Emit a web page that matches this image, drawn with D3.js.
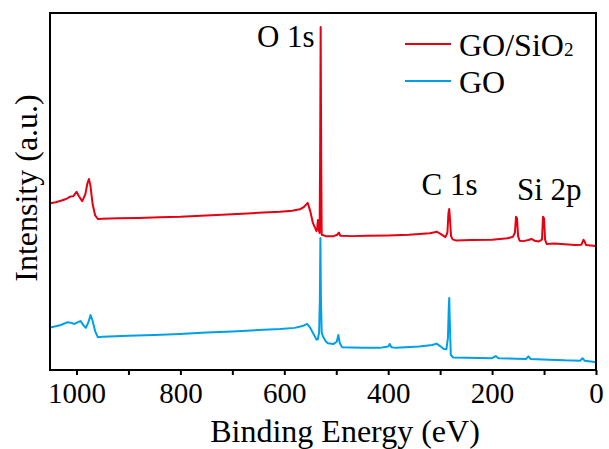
<!DOCTYPE html>
<html>
<head>
<meta charset="utf-8">
<script src="https://cdn.jsdelivr.net/npm/d3@7"></script>
<style>
  html, body { margin: 0; padding: 0; background: #fff; }
  svg { display: block; }
  text { font-family: "Liberation Serif", "Times New Roman", serif; fill: #000; }
</style>
</head>
<body>
<svg id="chart" width="609" height="449"></svg>
<script>
// XPS survey spectra: [binding energy (eV), intensity (a.u.)]
const goSiO2 = [
  [1051, 46.5], [1048, 46.8], [1040, 47.0], [1030, 47.4], [1020, 47.9], [1013, 48.5],
  [1006, 48.7], [1000, 49.9], [995, 48.6], [989, 47.3], [983, 49.2], [979, 52.3],
  [976, 53.5], [973, 51.5], [969, 46.5], [964, 43.3], [959, 42.3], [950, 42.4],
  [920, 42.5], [880, 42.6], [840, 42.8], [800, 42.9], [760, 43.2], [720, 43.5],
  [680, 43.8], [640, 44.1], [608, 44.3], [585, 44.6], [570, 45.0], [562, 45.7],
  [555, 46.8], [550, 44.5], [545, 41.2], [538, 38.9], [536.5, 40.0], [535.3, 42.0],
  [534, 39.5], [532, 38.4], [531, 60.0], [530, 96.1], [529, 60.0], [528, 37.9],
  [526, 37.8], [520, 37.5], [505, 37.5], [498, 37.9], [495, 38.5], [492, 37.6],
  [470, 37.5], [440, 37.6], [400, 37.7], [360, 37.9], [320, 38.3], [306, 38.7],
  [297, 37.9], [290, 37.2], [286, 38.5], [284, 44.0], [282.5, 45.1], [281, 42.0],
  [279, 37.5], [276, 36.6], [270, 36.3], [240, 36.4], [200, 36.5], [170, 36.9],
  [160, 37.3], [156, 38.5], [154, 42.9], [152, 42.5], [150, 37.5], [147, 36.2],
  [140, 36.1], [130, 36.4], [124, 36.7], [118, 36.2], [110, 36.0], [104, 36.5],
  [102, 42.9], [100, 42.5], [98, 36.5], [95, 35.3], [80, 35.4], [60, 35.2],
  [40, 35.0], [28, 35.1], [24, 36.5], [22, 36.0], [19, 35.0], [10, 34.9], [0, 34.7]
];

const go = [
  [1051, 11.9], [1048, 12.0], [1030, 12.6], [1017, 13.4], [1010, 13.2], [1004, 12.9],
  [996, 13.5], [992, 13.7], [987, 12.6], [982, 11.8], [977, 13.4], [973, 15.4],
  [969, 13.8], [964, 10.8], [959, 9.2], [950, 9.3], [900, 9.6], [850, 9.8],
  [801, 10.1], [750, 10.5], [700, 10.8], [650, 11.2], [608, 11.5], [580, 11.8],
  [565, 12.3], [556, 12.9], [550, 11.8], [543, 9.9], [538, 8.5], [535.5, 8.6],
  [533, 10.5], [531.5, 20.0], [530.5, 37.0], [529.5, 20.0], [528, 10.5], [525.5, 9.4],
  [520, 8.0], [516, 7.5], [505, 7.3], [499, 7.9], [496, 9.8], [493, 7.5], [489, 6.4],
  [450, 6.2], [416, 6.2], [400, 6.6], [397, 7.3], [394, 6.4], [385, 6.2], [340, 6.6],
  [315, 7.0], [307, 7.4], [300, 6.7], [293, 5.9], [288, 5.8], [285, 9.0], [283.5, 17.0],
  [282.5, 20.2], [281.5, 14.0], [279.5, 4.2], [275, 3.5], [250, 3.4], [200, 3.3],
  [193, 3.9], [188, 3.3], [135, 3.1], [130, 3.8], [126, 3.1], [90, 2.9], [60, 2.7],
  [30, 2.6], [26, 3.3], [22, 2.6], [10, 2.4], [0, 2.2]
];

const seriesNames = ["GO/SiO", "GO"];
const seriesColors = ["#e60012", "#00a0e9"];

// x axis ticks (every 100 eV, labelled every 200 eV)
const tickValues = [1000, 900, 800, 700, 600, 500, 400, 300, 200, 100, 0];
const tickLabels = ["1000", "", "800", "", "600", "", "400", "", "200", "", "0"];

// peak annotations: [label, energy position, intensity position, anchor]
const peakLabels = [
  ["O 1s", 541.5, 90.5, "end"],
  ["C 1s", 282, 49.0, "middle"],
  ["Si 2p", 90, 47.6, "middle"]
];

const W = 609, H = 449;
const margin = { left: 50, right: 13, top: 13, bottom: 79 };
const plotW = W - margin.left - margin.right;
const plotH = H - margin.top - margin.bottom;

const svg = d3.select("#chart");
const g = svg.append("g").attr("transform", `translate(${margin.left},${margin.top})`);

const x = d3.scaleLinear().domain([1051, 0]).range([0, plotW]);
const y = d3.scaleLinear().domain([0, 100]).range([plotH, 0]);

const line = d3.line().x(d => x(d[0])).y(d => y(d[1]));

g.append("defs").append("clipPath").attr("id", "plotClip")
  .append("rect").attr("width", plotW).attr("height", plotH);

[goSiO2, go].forEach((data, i) => {
  g.append("path")
    .datum(data)
    .attr("clip-path", "url(#plotClip)")
    .attr("fill", "none")
    .attr("stroke", seriesColors[i])
    .attr("stroke-width", 2)
    .attr("stroke-linejoin", "round")
    .attr("d", line);
});

// frame
g.append("rect")
  .attr("width", plotW).attr("height", plotH)
  .attr("fill", "none").attr("stroke", "#000").attr("stroke-width", 2);

// bottom axis
const xAxis = d3.axisBottom(x)
  .tickValues(tickValues)
  .tickFormat((d, i) => tickLabels[i])
  .tickSize(5)
  .tickPadding(7);

const ax = g.append("g").attr("transform", `translate(0,${plotH})`).call(xAxis);
ax.select(".domain").remove();
ax.selectAll(".tick line").attr("stroke", "#000").attr("stroke-width", 2);
ax.selectAll(".tick text")
  .attr("font-family", "'Liberation Serif', 'Times New Roman', serif")
  .attr("font-size", 29)
  .attr("fill", "#000");

// axis titles
svg.append("text")
  .attr("x", 345).attr("y", 442)
  .attr("text-anchor", "middle")
  .attr("font-size", 32)
  .text("Binding Energy (eV)");

svg.append("text")
  .attr("transform", "translate(37,188) rotate(-90)")
  .attr("text-anchor", "middle")
  .attr("font-size", 32)
  .text("Intensity (a.u.)");

// peak labels
g.selectAll(".peak-label")
  .data(peakLabels)
  .enter().append("text")
  .attr("class", "peak-label")
  .attr("x", d => x(d[1]))
  .attr("y", d => y(d[2]))
  .attr("text-anchor", d => d[3])
  .attr("font-size", 31)
  .text(d => d[0]);

// legend
const legend = svg.append("g").attr("transform", "translate(405,44)");
seriesNames.forEach((name, i) => {
  const row = legend.append("g").attr("transform", `translate(0,${i * 37})`);
  row.append("line")
    .attr("x1", 0).attr("x2", 46)
    .attr("stroke", seriesColors[i]).attr("stroke-width", 2);
  const t = row.append("text")
    .attr("x", 54).attr("y", 12)
    .attr("font-size", 32)
    .text(name);
  if (i === 0) {
    t.append("tspan").attr("font-size", 19).attr("dy", 0).text("2");
  }
});
</script>
</body>
</html>
